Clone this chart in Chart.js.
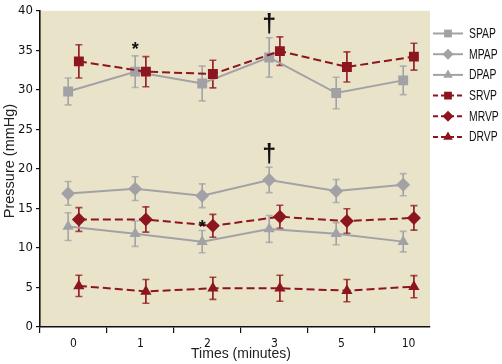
<!DOCTYPE html>
<html><head><meta charset="utf-8">
<script src="https://cdn.jsdelivr.net/npm/chart.js@4"></script>
<style>html,body{margin:0;padding:0;background:#fff}#wrap{width:502px;height:364px}</style>
</head><body><div id="wrap"><canvas id="c" width="502" height="364"></canvas></div>
<script>
const categories = ['0', '1', '2', '3', '5', '10'];
const seriesNames = ['SPAP', 'MPAP', 'DPAP', 'SRVP', 'MRVP', 'DRVP'];
const spap = [29.8, 32.3, 30.8, 34.1, 29.6, 31.2];
const spapErr = [1.7, 2.0, 2.2, 2.5, 2.0, 1.8];
const mpap = [16.9, 17.5, 16.6, 18.6, 17.2, 18.0];
const mpapErr = [1.5, 1.5, 1.5, 1.6, 1.45, 1.4];
const dpap = [12.7, 11.8, 10.8, 12.4, 11.8, 10.8];
const dpapErr = [1.75, 1.6, 1.4, 1.7, 1.4, 1.3];
const srvp = [33.6, 32.3, 32.0, 34.9, 32.9, 34.2];
const srvpErr = [2.1, 1.9, 1.75, 1.8, 1.9, 1.7];
const mrvp = [13.6, 13.6, 12.8, 13.95, 13.4, 13.8];
const mrvpErr = [1.5, 1.6, 1.45, 1.45, 1.55, 1.55];
const drvp = [5.2, 4.5, 4.9, 4.9, 4.6, 5.1];
const drvpErr = [1.35, 1.5, 1.4, 1.65, 1.4, 1.4];
const yTicks = [0, 5, 10, 15, 20, 25, 30, 35, 40];
// significance marks: category index, value level, symbol
const markCats = [1, 3, 3, 2];
const markLevels = [35.6, 38.2, 21.8, 13.0];
const markSymbols = ['*', '\u2020', '\u2020', '*'];

const GRAY = '#a2a2a6';
const RED = '#8c1520';
const BG = '#e9e4c9';
const OFF = 0.08;
const NARROW = "'Liberation Sans Narrow', 'DejaVu Sans Condensed', sans-serif";
const SANS = "'Liberation Sans', Arial, sans-serif";

function pts(vals, off) { return vals.map((v, i) => ({ x: i + off, y: v })); }

const defs = [
  { vals: spap, err: spapErr, color: GRAY, dash: [], style: 'rect', r: 7, off: -OFF },
  { vals: mpap, err: mpapErr, color: GRAY, dash: [], style: 'rectRot', r: 7, off: -OFF },
  { vals: dpap, err: dpapErr, color: GRAY, dash: [], style: 'triangle', r: 6.5, off: -OFF },
  { vals: srvp, err: srvpErr, color: RED, dash: [8, 4], style: 'rect', r: 7, off: OFF },
  { vals: mrvp, err: mrvpErr, color: RED, dash: [8, 4], style: 'rectRot', r: 7, off: OFF },
  { vals: drvp, err: drvpErr, color: RED, dash: [8, 4], style: 'triangle', r: 6.5, off: OFF }
];

const datasets = defs.map((d, i) => ({
  label: seriesNames[i],
  data: pts(d.vals, d.off),
  errs: d.err,
  borderColor: d.color,
  backgroundColor: d.color,
  pointBackgroundColor: d.color,
  pointBorderColor: d.color,
  borderWidth: 2,
  borderDash: d.dash,
  pointStyle: d.style,
  pointRadius: d.r,
  pointHoverRadius: d.r,
  pointBorderWidth: 0,
  tension: 0,
  order: d.color === RED ? 0 : 1
}));

const xTickVals = [];
for (let i = -0.5; i <= categories.length - 1 + 1e-9; i += 0.5) xTickVals.push(i);

const bgPlugin = {
  id: 'bg',
  beforeDraw(chart) {
    const a = chart.chartArea, ctx = chart.ctx;
    ctx.save(); ctx.fillStyle = BG;
    ctx.fillRect(a.left, a.top, a.right - a.left, a.bottom - a.top);
    ctx.restore();
  }
};

const errPlugin = {
  id: 'errbars',
  beforeDatasetsDraw(chart) {
    const ctx = chart.ctx, xs = chart.scales.x, ys = chart.scales.y;
    ctx.save();
    chart.data.datasets.forEach(ds => {
      ds.data.forEach((p, i) => {
        const e = ds.errs[i];
        const x = xs.getPixelForValue(p.x);
        const y1 = ys.getPixelForValue(p.y + e), y2 = ys.getPixelForValue(p.y - e);
        ctx.strokeStyle = ds.borderColor; ctx.lineWidth = 1.6; ctx.setLineDash([]);
        ctx.beginPath(); ctx.moveTo(x, y1); ctx.lineTo(x, y2); ctx.stroke();
        ctx.globalAlpha = 0.75;
        ctx.beginPath(); ctx.moveTo(x - 3.5, y1); ctx.lineTo(x + 3.5, y1);
        ctx.moveTo(x - 3.5, y2); ctx.lineTo(x + 3.5, y2); ctx.stroke();
        ctx.globalAlpha = 1;
      });
    });
    ctx.restore();
  }
};

const annPlugin = {
  id: 'ann',
  afterDatasetsDraw(chart) {
    const ctx = chart.ctx, xs = chart.scales.x, ys = chart.scales.y;
    ctx.save();
    ctx.fillStyle = '#111'; ctx.textAlign = 'center'; ctx.textBaseline = 'middle';
    markCats.forEach((c, k) => {
      const x = xs.getPixelForValue(c - OFF);
      const y = ys.getPixelForValue(markLevels[k]);
      if (markSymbols[k] === '*') {
        ctx.font = 'bold 18px ' + SANS;
        ctx.fillText('*', x, y + 4);
      } else {
        ctx.font = 'bold 25px ' + SANS;
        ctx.fillText(markSymbols[k], x, y);
      }
    });
    ctx.restore();
  }
};

const legendPlugin = {
  id: 'customLegend',
  afterDraw(chart) {
    const ctx = chart.ctx;
    ctx.save();
    chart.data.datasets.forEach((ds, i) => {
      const y = 33.5 + i * 20.7;
      ctx.strokeStyle = ds.borderColor; ctx.lineWidth = 2;
      ctx.setLineDash(ds.borderDash.length ? [5, 3] : []);
      ctx.beginPath(); ctx.moveTo(433, y); ctx.lineTo(463, y); ctx.stroke();
      ctx.setLineDash([]);
      ctx.fillStyle = ds.borderColor;
      Chart.helpers.drawPoint(ctx, { pointStyle: ds.pointStyle, radius: 5.5, borderWidth: 0 }, 448, y);
      ctx.save();
      ctx.fillStyle = '#111';
      ctx.font = '14px ' + SANS;
      ctx.textAlign = 'left'; ctx.textBaseline = 'middle';
      ctx.translate(469, y + 0.5); ctx.scale(0.74, 1);
      ctx.fillText(ds.label, 0, 0);
      ctx.restore();
    });
    // axis titles
    ctx.fillStyle = '#222';
    ctx.font = '14px ' + SANS;
    ctx.textAlign = 'center'; ctx.textBaseline = 'middle';
    ctx.fillText('Times (minutes)', 241, 354);
    ctx.translate(10, 161); ctx.rotate(-Math.PI / 2);
    ctx.font = '14.5px ' + SANS;
    ctx.fillText('Pressure (mmHg)', 0, 0);
    ctx.restore();
  }
};

new Chart(document.getElementById('c'), {
  type: 'line',
  data: { datasets },
  options: {
    responsive: false,
    animation: false,
    devicePixelRatio: 1,
    layout: { padding: { top: 6, right: 72, left: 0, bottom: 0 } },
    plugins: { legend: { display: false }, tooltip: { enabled: false } },
    elements: { line: { fill: false } },
    scales: {
      x: {
        type: 'linear', min: -0.5, max: 5.32,
        afterBuildTicks(s) { s.ticks = xTickVals.map(v => ({ value: v })); },
        afterFit(s) { s.height = 37; },
        ticks: {
          autoSkip: false, maxRotation: 0, padding: 4, color: '#111',
          font: { family: NARROW, size: 12 },
          callback(v) { return Number.isInteger(v) ? categories[v] : ''; }
        },
        grid: {
          drawOnChartArea: false, tickLength: 6, lineWidth: 1.2,
          color(ctx) { return ctx.tick && !Number.isInteger(ctx.tick.value) ? '#111' : 'rgba(0,0,0,0)'; }
        },
        border: { display: true, color: '#111', width: 1.6 }
      },
      y: {
        min: 0, max: 40,
        afterBuildTicks(s) { s.ticks = yTicks.map(v => ({ value: v })); },
        afterFit(s) { s.width = 40; },
        ticks: { color: '#111', padding: 3, font: { family: NARROW, size: 13 } },
        grid: { drawOnChartArea: false, tickLength: 4, color: '#111', lineWidth: 1.2 },
        border: { display: true, color: '#111', width: 1.6 }
      }
    }
  },
  plugins: [bgPlugin, errPlugin, annPlugin, legendPlugin]
});
</script></body></html>
